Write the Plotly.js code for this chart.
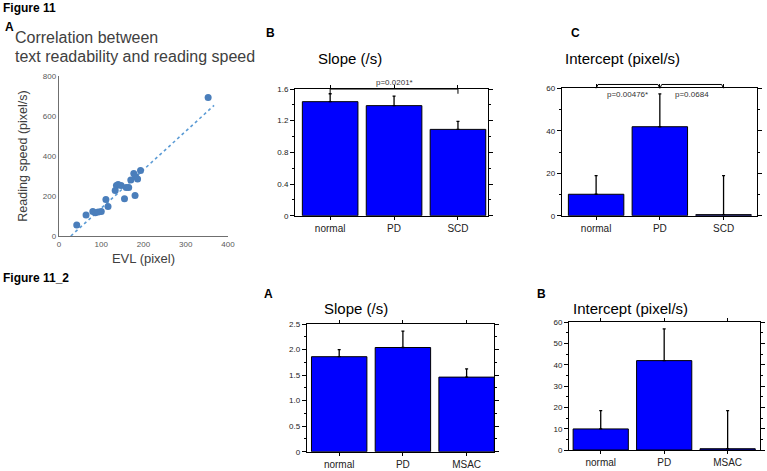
<!DOCTYPE html>
<html>
<head>
<meta charset="utf-8">
<script src="https://cdn.plot.ly/plotly-3.0.1.min.js"></script>
<style>
body { margin: 0; background: #fff; }
#fig { width: 767px; height: 471px; }
</style>
</head>
<body>
<div id="fig"></div>
<script>
// Figure 11 A: text readability (EVL) vs reading speed
var evl = [42, 64, 80, 86, 93, 100, 111, 116, 133, 136, 140, 147, 155, 159, 165, 170, 177, 180, 181, 186, 193, 353];
var readSpeed = [55, 105, 122, 116, 120, 123, 183, 148, 228, 252, 258, 252, 186, 243, 243, 280, 313, 202, 297, 285, 327, 692];
var trendEvl = [28, 367];
var trendSpeed = [0, 653];

// Figure 11 B / C
var groups1 = ["normal", "PD", "SCD"];
var slope1 = [1.44, 1.39, 1.09];
var slope1Se = [0.10, 0.12, 0.10];
var icept1 = [10.1, 41.9, 0.5];
var icept1Se = [8.8, 15.5, 18.4];

// Figure 11_2 A / B
var groups2 = ["normal", "PD", "MSAC"];
var slope2 = [1.86, 2.04, 1.46];
var slope2Se = [0.14, 0.32, 0.16];
var icept2 = [9.9, 42.0, 0.6];
var icept2Se = [8.6, 14.9, 17.9];

var slope2Ticks = [0, 0.5, 1, 1.5, 2, 2.5];
var slope2TickText = ["0", "0.5", "1.0", "1.5", "2.0", "2.5"];

// significance brackets: [from group, to group, label]
var slopeSig1 = [[0, 2, "p=0.0201*"]];
var iceptSig1 = [[0, 1, "p=0.00476*"], [1, 2, "p=0.0684"]];

var W = 767, H = 471;
var font = "Liberation Sans, Arial, sans-serif";

function px(x) { return x / W; }
function py(y) { return 1 - y / H; }

function barTrace(x, y, se, n) {
	return {
		type: "bar",
		x: x,
		y: y,
		xaxis: "x" + n,
		yaxis: "y" + n,
		marker: { color: "#0000ff", line: { color: "#000", width: 1 } },
		error_y: {
			type: "data",
			array: se,
			symmetric: false,
			arrayminus: se.map(function () { return 0; }),
			color: "#000",
			thickness: 1.3,
			width: 1.5
		},
		hoverinfo: "skip"
	};
}

function catAxis(dom, range, anchor) {
	return {
		domain: dom, range: range, anchor: anchor, type: "category",
		showline: true, linecolor: "#000", linewidth: 1, mirror: "ticks",
		ticks: "outside", ticklen: 3, tickcolor: "#000",
		showgrid: false, zeroline: false, fixedrange: true,
		tickfont: { family: font, size: 10, color: "#222" }
	};
}

function valAxis(dom, range, dtick, minor, anchor) {
	return {
		domain: dom, range: range, anchor: anchor, dtick: dtick, tick0: 0,
		showline: true, linecolor: "#000", linewidth: 1, mirror: "ticks",
		ticks: "outside", ticklen: 4, tickcolor: "#000",
		minor: { dtick: minor, ticks: "outside", ticklen: 2, tickcolor: "#000" },
		showgrid: false, zeroline: false, fixedrange: true,
		tickfont: { family: font, size: 8, color: "#222" }
	};
}

var scatter = {
	type: "scatter", mode: "markers",
	x: evl, y: readSpeed,
	marker: { color: "#4a7ebb", size: 7 },
	hoverinfo: "skip"
};
var trend = {
	type: "scatter", mode: "lines",
	x: trendEvl, y: trendSpeed,
	line: { color: "#5b9bd5", width: 1.6, dash: "dot" },
	hoverinfo: "skip"
};

var data = [
	trend, scatter,
	barTrace(groups1, slope1, slope1Se, 2),
	barTrace(groups1, icept1, icept1Se, 3),
	barTrace(groups2, slope2, slope2Se, 4),
	barTrace(groups2, icept2, icept2Se, 5)
];

var shapes = [];
var annotations = [];

// bracket for B (runs along the top frame)
slopeSig1.forEach(function (s) {
	var top = 1.6, drop = 1.54;
	shapes.push({ type: "line", xref: "x2", yref: "y2", x0: s[0], x1: s[1], y0: top, y1: top, line: { color: "#777", width: 2 } });
	shapes.push({ type: "line", xref: "x2", yref: "y2", x0: s[0], x1: s[0], y0: top, y1: drop, line: { color: "#000", width: 1 } });
	shapes.push({ type: "line", xref: "x2", yref: "y2", x0: s[1], x1: s[1], y0: top, y1: drop, line: { color: "#000", width: 1 } });
	annotations.push({ xref: "x2", yref: "y2", x: (s[0] + s[1]) / 2, y: top, yanchor: "bottom", yshift: 0, showarrow: false, text: s[2], font: { family: font, size: 8, color: "#333" } });
});

// brackets for C (raised above the frame)
iceptSig1.forEach(function (s) {
	var lo = 1.0, hi = 1.03;
	shapes.push({ type: "line", xref: "x3", yref: "y3 domain", x0: s[0] + 0.03, x1: s[1] - 0.03, y0: hi, y1: hi, line: { color: "#000", width: 1 } });
	shapes.push({ type: "line", xref: "x3", yref: "y3 domain", x0: s[0], x1: s[0] + 0.03, y0: lo, y1: hi, line: { color: "#000", width: 1 } });
	shapes.push({ type: "line", xref: "x3", yref: "y3 domain", x0: s[1] - 0.03, x1: s[1], y0: hi, y1: lo, line: { color: "#000", width: 1 } });
	annotations.push({ xref: "x3", yref: "y3", x: (s[0] + s[1]) / 2, y: 60, yanchor: "top", yshift: 0, showarrow: false, text: s[2], font: { family: font, size: 8, color: "#333" } });
});

function label(text, x, y, size, opts) {
	var a = {
		xref: "paper", yref: "paper", x: px(x), y: py(y),
		xanchor: "left", yanchor: "middle", showarrow: false,
		text: text, font: { family: font, size: size, color: "#000" }
	};
	for (var k in opts) a[k] = opts[k];
	return a;
}

annotations.push(
	label("<b>Figure 11</b>", 1, 8, 12),
	label("<b>A</b>", 3, 27, 12),
	label("Correlation between", 13, 38, 16, { font: { family: font, size: 16, color: "#404040" } }),
	label("text readability and reading speed", 13, 57, 16, { font: { family: font, size: 16, color: "#404040" } }),
	label("<b>B</b>", 264, 33, 12),
	label("Slope (/s)", 350, 59, 15, { xanchor: "center" }),
	label("<b>C</b>", 569, 33, 12),
	label("Intercept (pixel/s)", 622, 59, 15, { xanchor: "center" }),
	label("<b>Figure 11_2</b>", 1, 278, 12),
	label("<b>A</b>", 262, 294, 12),
	label("Slope (/s)", 356, 308, 15, { xanchor: "center" }),
	label("<b>B</b>", 535, 294, 12),
	label("Intercept (pixel/s)", 630, 308, 15, { xanchor: "center" })
);

var ax4y = valAxis([py(451.7), py(324)], [0, 2.5], 0.5, 0.25, "x4");
ax4y.tickmode = "array";
ax4y.tickvals = slope2Ticks;
ax4y.ticktext = slope2TickText;

var layout = {
	width: W,
	height: H,
	margin: { l: 0, r: 0, t: 0, b: 0 },
	paper_bgcolor: "#fff",
	plot_bgcolor: "rgba(0,0,0,0)",
	showlegend: false,
	bargap: 0.13,
	font: { family: font },
	xaxis: {
		domain: [px(59), px(228)], range: [0, 400], dtick: 100, anchor: "y",
		showline: true, linecolor: "#6f6f6f", linewidth: 1.2, ticks: "",
		showgrid: false, zeroline: false, fixedrange: true,
		tickfont: { family: font, size: 8, color: "#595959" },
		title: { text: "EVL (pixel)", font: { family: font, size: 13, color: "#404040" }, standoff: 6 }
	},
	yaxis: {
		domain: [py(236), py(76)], range: [0, 800], dtick: 200, anchor: "x",
		showline: true, linecolor: "#6f6f6f", linewidth: 1.2, ticks: "",
		showgrid: false, zeroline: false, fixedrange: true,
		tickfont: { family: font, size: 8, color: "#595959" },
		title: { text: "Reading speed (pixel/s)", font: { family: font, size: 12.5, color: "#404040" }, standoff: 12 }
	},
	xaxis2: catAxis([px(295), px(488)], [-0.55, 2.47], "y2"),
	yaxis2: valAxis([py(215.7), py(89)], [0, 1.6], 0.4, 0.2, "x2"),
	xaxis3: catAxis([px(561.7), px(756.7)], [-0.54, 2.52], "y3"),
	yaxis3: valAxis([py(215.7), py(88.3)], [0, 60], 20, 10, "x3"),
	xaxis4: catAxis([px(306.7), px(494)], [-0.51, 2.43], "y4"),
	yaxis4: ax4y,
	xaxis5: catAxis([px(569), px(760)], [-0.5, 2.51], "y5"),
	yaxis5: valAxis([py(450), py(322.3)], [0, 60], 10, 5, "x5"),
	shapes: shapes,
	annotations: annotations
};

Plotly.newPlot("fig", data, layout, { displayModeBar: false, staticPlot: true });
</script>
</body>
</html>
